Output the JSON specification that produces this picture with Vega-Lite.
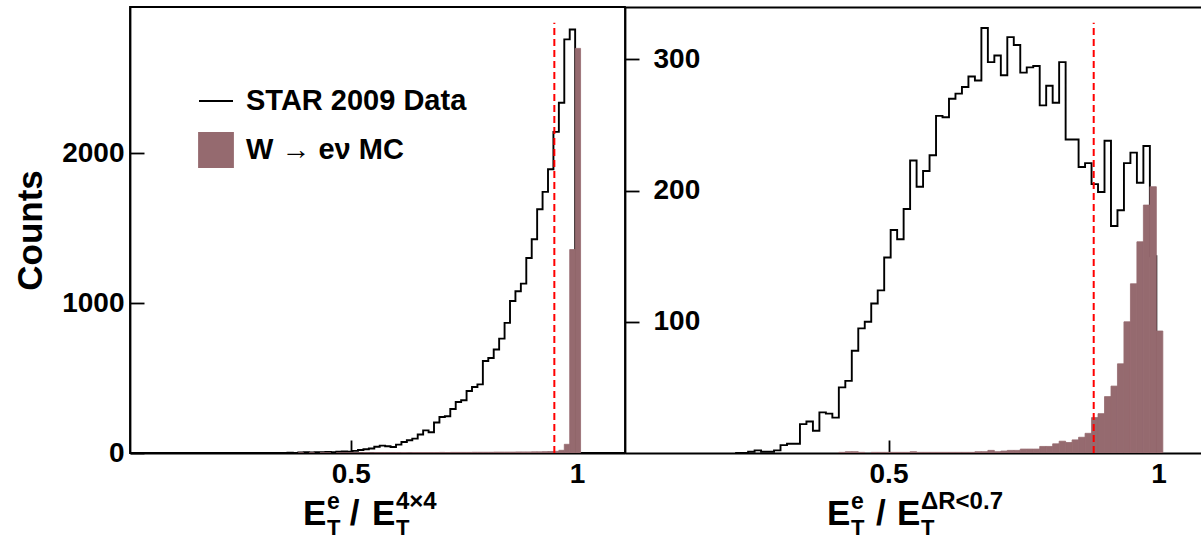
{
  "$schema": "https://vega.github.io/schema/vega-lite/v6.json",
  "background": "white",
  "padding": {"left": 12, "top": 6, "right": 0, "bottom": 0},
  "spacing": 0,
  "bounds": "flush",
  "resolve": {"scale": {"color": "independent"}},
  "config": {
    "font": "Liberation Sans",
    "view": {"stroke": "#000000", "strokeWidth": 1.8},
    "axis": {
      "grid": false,
      "domainColor": "#000000", "domainWidth": 1.8,
      "tickColor": "#000000", "tickWidth": 1.8,
      "labelFont": "Liberation Sans", "labelFontWeight": "bold", "labelFontSize": 28, "labelColor": "#000000",
      "titleFont": "Liberation Sans", "titleFontWeight": "bold", "titleColor": "#000000",
      "labelFlush": false
    },
    "text": {"font": "Liberation Sans", "fontWeight": "bold", "color": "#000000"}
  },
  "hconcat": [
    {
      "width": 495,
      "height": 446,
      "data": {"values": [
        {"lo": 0.336, "hi": 0.348, "data": 0, "mc": 0},
        {"lo": 0.348, "hi": 0.360, "data": 0, "mc": 0},
        {"lo": 0.360, "hi": 0.372, "data": 2, "mc": 0},
        {"lo": 0.372, "hi": 0.384, "data": 1, "mc": 0},
        {"lo": 0.384, "hi": 0.396, "data": 4, "mc": 1},
        {"lo": 0.396, "hi": 0.408, "data": 5, "mc": 0},
        {"lo": 0.408, "hi": 0.420, "data": 3, "mc": 1},
        {"lo": 0.420, "hi": 0.432, "data": 6, "mc": 0},
        {"lo": 0.432, "hi": 0.444, "data": 5, "mc": 1},
        {"lo": 0.444, "hi": 0.456, "data": 7, "mc": 1},
        {"lo": 0.456, "hi": 0.468, "data": 6, "mc": 0},
        {"lo": 0.468, "hi": 0.480, "data": 8, "mc": 1},
        {"lo": 0.480, "hi": 0.492, "data": 10, "mc": 1},
        {"lo": 0.492, "hi": 0.504, "data": 9, "mc": 1},
        {"lo": 0.504, "hi": 0.516, "data": 14, "mc": 1},
        {"lo": 0.516, "hi": 0.528, "data": 20, "mc": 1},
        {"lo": 0.528, "hi": 0.540, "data": 25, "mc": 2},
        {"lo": 0.540, "hi": 0.552, "data": 30, "mc": 1},
        {"lo": 0.552, "hi": 0.564, "data": 42, "mc": 2},
        {"lo": 0.564, "hi": 0.576, "data": 49, "mc": 2},
        {"lo": 0.576, "hi": 0.588, "data": 45, "mc": 2},
        {"lo": 0.588, "hi": 0.600, "data": 40, "mc": 2},
        {"lo": 0.600, "hi": 0.612, "data": 56, "mc": 2},
        {"lo": 0.612, "hi": 0.624, "data": 73, "mc": 3},
        {"lo": 0.624, "hi": 0.636, "data": 85, "mc": 2},
        {"lo": 0.636, "hi": 0.648, "data": 96, "mc": 3},
        {"lo": 0.648, "hi": 0.660, "data": 123, "mc": 3},
        {"lo": 0.660, "hi": 0.672, "data": 151, "mc": 3},
        {"lo": 0.672, "hi": 0.684, "data": 138, "mc": 3},
        {"lo": 0.684, "hi": 0.696, "data": 203, "mc": 3},
        {"lo": 0.696, "hi": 0.708, "data": 240, "mc": 4},
        {"lo": 0.708, "hi": 0.720, "data": 245, "mc": 3},
        {"lo": 0.720, "hi": 0.732, "data": 294, "mc": 4},
        {"lo": 0.732, "hi": 0.744, "data": 340, "mc": 4},
        {"lo": 0.744, "hi": 0.756, "data": 352, "mc": 4},
        {"lo": 0.756, "hi": 0.768, "data": 414, "mc": 4},
        {"lo": 0.768, "hi": 0.780, "data": 440, "mc": 5},
        {"lo": 0.780, "hi": 0.792, "data": 458, "mc": 5},
        {"lo": 0.792, "hi": 0.804, "data": 614, "mc": 5},
        {"lo": 0.804, "hi": 0.816, "data": 634, "mc": 5},
        {"lo": 0.816, "hi": 0.828, "data": 690, "mc": 6},
        {"lo": 0.828, "hi": 0.840, "data": 763, "mc": 6},
        {"lo": 0.840, "hi": 0.852, "data": 868, "mc": 6},
        {"lo": 0.852, "hi": 0.864, "data": 1014, "mc": 6},
        {"lo": 0.864, "hi": 0.876, "data": 1079, "mc": 7},
        {"lo": 0.876, "hi": 0.888, "data": 1130, "mc": 7},
        {"lo": 0.888, "hi": 0.900, "data": 1301, "mc": 7},
        {"lo": 0.900, "hi": 0.912, "data": 1426, "mc": 8},
        {"lo": 0.912, "hi": 0.924, "data": 1626, "mc": 8},
        {"lo": 0.924, "hi": 0.936, "data": 1742, "mc": 9},
        {"lo": 0.936, "hi": 0.948, "data": 1893, "mc": 10},
        {"lo": 0.948, "hi": 0.960, "data": 2142, "mc": 11},
        {"lo": 0.960, "hi": 0.972, "data": 2336, "mc": 18},
        {"lo": 0.972, "hi": 0.984, "data": 2759, "mc": 58},
        {"lo": 0.984, "hi": 0.996, "data": 2825, "mc": 1357},
        {"lo": 0.996, "hi": 1.008, "data": 0, "mc": 2699},
        {"lo": 1.008, "hi": 1.020, "data": 0, "mc": 0}
      ]},
      "layer": [
        {
          "mark": {"type": "line", "interpolate": "step-after", "strokeWidth": 1.9, "clip": true},
          "encoding": {
            "x": {"field": "lo", "type": "quantitative",
                  "scale": {"domain": [0.012, 1.1062], "nice": false, "zero": false},
                  "axis": {"values": [0.5, 1], "format": "~g", "tickSize": -13, "labelPadding": 20, "title": null}},
            "y": {"field": "data", "type": "quantitative",
                  "scale": {"domain": [0, 2975], "nice": false},
                  "axis": {"values": [0, 1000, 2000], "format": "d", "tickSize": -14, "labelPadding": 20,
                           "title": "Counts", "titleFontSize": 35, "titlePadding": 13}},
            "color": {"datum": "STAR 2009 Data", "type": "nominal",
                      "scale": {"domain": ["STAR 2009 Data", "W → eν MC"], "range": ["#000000", "#956a6f"]},
                      "legend": {
                        "orient": "none", "legendX": 68, "legendY": 76, "title": null, "direction": "vertical",
                        "labelFont": "Liberation Sans", "labelFontSize": 29, "labelFontWeight": "bold", "labelColor": "#000000",
                        "labelLimit": 500,
                        "symbolSize": 1156, "symbolStrokeWidth": 1.8, "rowPadding": 13, "labelOffset": 12, "padding": 0,
                        "encode": {"symbols": {"update": {
                          "shape": {"signal": "datum.value === 'STAR 2009 Data' ? 'stroke' : 'square'"},
                          "fill": {"signal": "datum.value === 'STAR 2009 Data' ? 'transparent' : '#956a6f'"},
                          "stroke": {"signal": "datum.value === 'STAR 2009 Data' ? '#000000' : 'transparent'"},
                          "strokeWidth": {"value": 1.8},
                          "opacity": {"value": 1}
                        }}}
                      }}
          }
        },
        {
          "transform": [{"filter": "datum.mc > 0"}],
          "mark": {"type": "rect", "stroke": "#956a6f", "strokeWidth": 0.8, "clip": true},
          "encoding": {
            "x": {"field": "lo", "type": "quantitative", "axis": null},
            "x2": {"field": "hi"},
            "y": {"field": "mc", "type": "quantitative", "axis": null},
            "y2": {"datum": 0},
            "color": {"datum": "W → eν MC", "type": "nominal"}
          }
        },
        {
          "data": {"values": [{}]},
          "mark": {"type": "rule", "color": "#ff0000", "strokeWidth": 2, "strokeDash": [7, 4]},
          "encoding": {
            "x": {"datum": 0.95, "type": "quantitative", "axis": null},
            "y": {"datum": 0, "type": "quantitative", "axis": null},
            "y2": {"datum": 2870}
          }
        },
        {"data": {"values": [{}]}, "mark": {"type": "text", "text": "E", "align": "left", "baseline": "alphabetic", "fontSize": 35, "dy": 72},
         "encoding": {"x": {"datum": 0.3944, "type": "quantitative", "axis": null}, "y": {"datum": 0, "type": "quantitative", "axis": null}}},
        {"data": {"values": [{}]}, "mark": {"type": "text", "text": "e", "align": "left", "baseline": "alphabetic", "fontSize": 23, "dy": 56},
         "encoding": {"x": {"datum": 0.4475, "type": "quantitative", "axis": null}, "y": {"datum": 0, "type": "quantitative", "axis": null}}},
        {"data": {"values": [{}]}, "mark": {"type": "text", "text": "T", "align": "left", "baseline": "alphabetic", "fontSize": 22, "dy": 82},
         "encoding": {"x": {"datum": 0.4475, "type": "quantitative", "axis": null}, "y": {"datum": 0, "type": "quantitative", "axis": null}}},
        {"data": {"values": [{}]}, "mark": {"type": "text", "text": "/", "align": "left", "baseline": "alphabetic", "fontSize": 35, "dy": 72},
         "encoding": {"x": {"datum": 0.4975, "type": "quantitative", "axis": null}, "y": {"datum": 0, "type": "quantitative", "axis": null}}},
        {"data": {"values": [{}]}, "mark": {"type": "text", "text": "E", "align": "left", "baseline": "alphabetic", "fontSize": 35, "dy": 72},
         "encoding": {"x": {"datum": 0.5469, "type": "quantitative", "axis": null}, "y": {"datum": 0, "type": "quantitative", "axis": null}}},
        {"data": {"values": [{}]}, "mark": {"type": "text", "text": "4×4", "align": "left", "baseline": "alphabetic", "fontSize": 24, "dy": 56},
         "encoding": {"x": {"datum": 0.6, "type": "quantitative", "axis": null}, "y": {"datum": 0, "type": "quantitative", "axis": null}}},
        {"data": {"values": [{}]}, "mark": {"type": "text", "text": "T", "align": "left", "baseline": "alphabetic", "fontSize": 22, "dy": 82},
         "encoding": {"x": {"datum": 0.6, "type": "quantitative", "axis": null}, "y": {"datum": 0, "type": "quantitative", "axis": null}}}
      ],
      "resolve": {"axis": {"x": "independent", "y": "independent"}}
    },
    {
      "width": 576,
      "height": 446,
      "view": {"stroke": null},
      "data": {"values": [
        {"lo": 0.216, "hi": 0.228, "data": 0, "mc": 0},
        {"lo": 0.228, "hi": 0.240, "data": 0, "mc": 0},
        {"lo": 0.240, "hi": 0.252, "data": 1, "mc": 0},
        {"lo": 0.252, "hi": 0.264, "data": 2, "mc": 0},
        {"lo": 0.264, "hi": 0.276, "data": 1, "mc": 0},
        {"lo": 0.276, "hi": 0.288, "data": 1, "mc": 0},
        {"lo": 0.288, "hi": 0.300, "data": 2, "mc": 0},
        {"lo": 0.300, "hi": 0.312, "data": 6, "mc": 0},
        {"lo": 0.312, "hi": 0.324, "data": 7, "mc": 0},
        {"lo": 0.324, "hi": 0.336, "data": 7, "mc": 0},
        {"lo": 0.336, "hi": 0.348, "data": 22, "mc": 0},
        {"lo": 0.348, "hi": 0.360, "data": 24, "mc": 0},
        {"lo": 0.360, "hi": 0.372, "data": 17, "mc": 0},
        {"lo": 0.372, "hi": 0.384, "data": 31, "mc": 0},
        {"lo": 0.384, "hi": 0.396, "data": 30, "mc": 0},
        {"lo": 0.396, "hi": 0.408, "data": 27, "mc": 0},
        {"lo": 0.408, "hi": 0.420, "data": 50, "mc": 0.5},
        {"lo": 0.420, "hi": 0.432, "data": 55, "mc": 1},
        {"lo": 0.432, "hi": 0.444, "data": 78, "mc": 1},
        {"lo": 0.444, "hi": 0.456, "data": 95, "mc": 0.5},
        {"lo": 0.456, "hi": 0.468, "data": 100, "mc": 0},
        {"lo": 0.468, "hi": 0.480, "data": 114, "mc": 0.5},
        {"lo": 0.480, "hi": 0.492, "data": 124, "mc": 0.5},
        {"lo": 0.492, "hi": 0.504, "data": 149, "mc": 0.5},
        {"lo": 0.504, "hi": 0.516, "data": 170, "mc": 0.5},
        {"lo": 0.516, "hi": 0.528, "data": 163, "mc": 0.5},
        {"lo": 0.528, "hi": 0.540, "data": 186, "mc": 0.5},
        {"lo": 0.540, "hi": 0.552, "data": 223, "mc": 1},
        {"lo": 0.552, "hi": 0.564, "data": 203, "mc": 0.5},
        {"lo": 0.564, "hi": 0.576, "data": 215, "mc": 0.5},
        {"lo": 0.576, "hi": 0.588, "data": 227, "mc": 0.5},
        {"lo": 0.588, "hi": 0.600, "data": 257, "mc": 0.5},
        {"lo": 0.600, "hi": 0.612, "data": 256, "mc": 0.5},
        {"lo": 0.612, "hi": 0.624, "data": 270, "mc": 0.5},
        {"lo": 0.624, "hi": 0.636, "data": 274, "mc": 0.5},
        {"lo": 0.636, "hi": 0.648, "data": 279, "mc": 0.5},
        {"lo": 0.648, "hi": 0.660, "data": 287, "mc": 0.5},
        {"lo": 0.660, "hi": 0.672, "data": 284, "mc": 1},
        {"lo": 0.672, "hi": 0.684, "data": 324, "mc": 1},
        {"lo": 0.684, "hi": 0.696, "data": 298, "mc": 2},
        {"lo": 0.696, "hi": 0.708, "data": 303, "mc": 1},
        {"lo": 0.708, "hi": 0.720, "data": 288, "mc": 1.5},
        {"lo": 0.720, "hi": 0.732, "data": 317, "mc": 2},
        {"lo": 0.732, "hi": 0.744, "data": 311, "mc": 2},
        {"lo": 0.744, "hi": 0.756, "data": 290, "mc": 3},
        {"lo": 0.756, "hi": 0.768, "data": 294, "mc": 3},
        {"lo": 0.768, "hi": 0.780, "data": 295, "mc": 3},
        {"lo": 0.780, "hi": 0.792, "data": 265, "mc": 5},
        {"lo": 0.792, "hi": 0.804, "data": 280, "mc": 5},
        {"lo": 0.804, "hi": 0.816, "data": 267, "mc": 7},
        {"lo": 0.816, "hi": 0.828, "data": 298, "mc": 9},
        {"lo": 0.828, "hi": 0.840, "data": 239, "mc": 8},
        {"lo": 0.840, "hi": 0.852, "data": 239, "mc": 10},
        {"lo": 0.852, "hi": 0.864, "data": 218, "mc": 12},
        {"lo": 0.864, "hi": 0.876, "data": 221, "mc": 15},
        {"lo": 0.876, "hi": 0.888, "data": 205, "mc": 27},
        {"lo": 0.888, "hi": 0.900, "data": 199, "mc": 30},
        {"lo": 0.900, "hi": 0.912, "data": 238, "mc": 43},
        {"lo": 0.912, "hi": 0.924, "data": 173, "mc": 51},
        {"lo": 0.924, "hi": 0.936, "data": 185, "mc": 68},
        {"lo": 0.936, "hi": 0.948, "data": 221, "mc": 100},
        {"lo": 0.948, "hi": 0.960, "data": 229, "mc": 129},
        {"lo": 0.960, "hi": 0.972, "data": 206, "mc": 161},
        {"lo": 0.972, "hi": 0.984, "data": 234, "mc": 189},
        {"lo": 0.984, "hi": 0.996, "data": 150, "mc": 203},
        {"lo": 0.996, "hi": 1.008, "data": 0, "mc": 93},
        {"lo": 1.008, "hi": 1.020, "data": 0, "mc": 0}
      ]},
      "layer": [
        {
          "mark": {"type": "line", "interpolate": "step-after", "strokeWidth": 1.9, "color": "#000000", "clip": true},
          "encoding": {
            "x": {"field": "lo", "type": "quantitative",
                  "scale": {"domain": [0.012, 1.0787], "nice": false, "zero": false},
                  "axis": {"values": [0.5, 1], "format": "~g", "tickSize": -13, "labelPadding": 20, "title": null}},
            "y": {"field": "data", "type": "quantitative",
                  "scale": {"domain": [0, 340], "nice": false},
                  "axis": {"values": [100, 200, 300], "format": "d", "tickSize": -14, "labelPadding": -14,
                           "labelAlign": "left", "title": null}}
          }
        },
        {
          "transform": [{"filter": "datum.mc > 0"}],
          "mark": {"type": "rect", "color": "#956a6f", "stroke": "#956a6f", "strokeWidth": 0.8, "clip": true},
          "encoding": {
            "x": {"field": "lo", "type": "quantitative",
                  "axis": {"orient": "top", "labels": false, "ticks": false, "domain": true, "title": null}},
            "x2": {"field": "hi"},
            "y": {"field": "mc", "type": "quantitative", "axis": null},
            "y2": {"datum": 0}
          }
        },
        {
          "data": {"values": [{}]},
          "mark": {"type": "rule", "color": "#ff0000", "strokeWidth": 2, "strokeDash": [7, 4]},
          "encoding": {
            "x": {"datum": 0.88, "type": "quantitative", "axis": null},
            "y": {"datum": 0, "type": "quantitative", "axis": null},
            "y2": {"datum": 328}
          }
        },
        {"data": {"values": [{}]}, "mark": {"type": "text", "text": "E", "align": "left", "baseline": "alphabetic", "fontSize": 35, "dy": 72},
         "encoding": {"x": {"datum": 0.3861, "type": "quantitative", "axis": null}, "y": {"datum": 0, "type": "quantitative", "axis": null}}},
        {"data": {"values": [{}]}, "mark": {"type": "text", "text": "e", "align": "left", "baseline": "alphabetic", "fontSize": 23, "dy": 56},
         "encoding": {"x": {"datum": 0.4306, "type": "quantitative", "axis": null}, "y": {"datum": 0, "type": "quantitative", "axis": null}}},
        {"data": {"values": [{}]}, "mark": {"type": "text", "text": "T", "align": "left", "baseline": "alphabetic", "fontSize": 22, "dy": 82},
         "encoding": {"x": {"datum": 0.4306, "type": "quantitative", "axis": null}, "y": {"datum": 0, "type": "quantitative", "axis": null}}},
        {"data": {"values": [{}]}, "mark": {"type": "text", "text": "/", "align": "left", "baseline": "alphabetic", "fontSize": 35, "dy": 72},
         "encoding": {"x": {"datum": 0.4768, "type": "quantitative", "axis": null}, "y": {"datum": 0, "type": "quantitative", "axis": null}}},
        {"data": {"values": [{}]}, "mark": {"type": "text", "text": "E", "align": "left", "baseline": "alphabetic", "fontSize": 35, "dy": 72},
         "encoding": {"x": {"datum": 0.5157, "type": "quantitative", "axis": null}, "y": {"datum": 0, "type": "quantitative", "axis": null}}},
        {"data": {"values": [{}]}, "mark": {"type": "text", "text": "ΔR<0.7", "align": "left", "baseline": "alphabetic", "fontSize": 24, "dy": 56},
         "encoding": {"x": {"datum": 0.5602, "type": "quantitative", "axis": null}, "y": {"datum": 0, "type": "quantitative", "axis": null}}},
        {"data": {"values": [{}]}, "mark": {"type": "text", "text": "T", "align": "left", "baseline": "alphabetic", "fontSize": 22, "dy": 82},
         "encoding": {"x": {"datum": 0.5602, "type": "quantitative", "axis": null}, "y": {"datum": 0, "type": "quantitative", "axis": null}}}
      ],
      "resolve": {"axis": {"x": "independent", "y": "independent"}}
    }
  ]
}
